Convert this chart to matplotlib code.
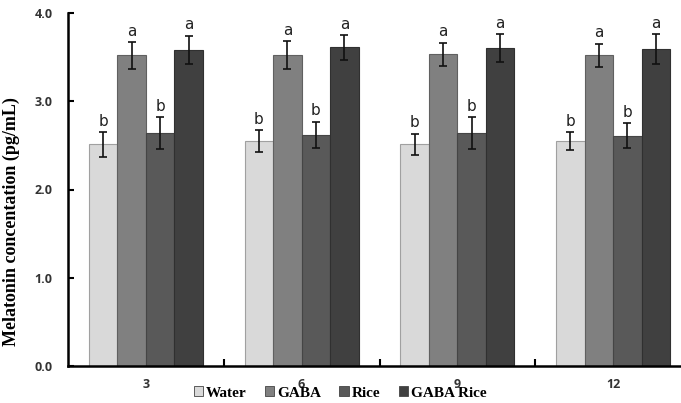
import matplotlib
matplotlib.use("Agg")
import matplotlib.pyplot as plt
import numpy as np

categories = ["3", "6", "9", "12"]
series = ["Water", "GABA", "Rice", "GABA Rice"]
water = [2.51, 2.55, 2.51, 2.55]
gaba = [3.52, 3.52, 3.53, 3.52]
rice = [2.64, 2.62, 2.64, 2.61]
gaba_rice = [3.58, 3.61, 3.60, 3.59]
water_err = [0.14, 0.12, 0.12, 0.10]
gaba_err = [0.15, 0.16, 0.13, 0.13]
rice_err = [0.18, 0.15, 0.18, 0.14]
gaba_rice_err = [0.16, 0.14, 0.16, 0.17]
letters = [["b"] * 4, ["a"] * 4, ["b"] * 4, ["a"] * 4]
yticks = [0.0, 1.0, 2.0, 3.0, 4.0]

values = [water, gaba, rice, gaba_rice]
errors = [water_err, gaba_err, rice_err, gaba_rice_err]
colors = ["#d9d9d9", "#808080", "#595959", "#404040"]
edges = ["#a0a0a0", "#606060", "#454545", "#303030"]

W, H = 681, 403
fig = plt.figure(figsize=(W / 100, H / 100), dpi=100)
ax = fig.add_axes([68 / W, 1 - 366 / H, (691 - 68) / W, (366 - 13) / H])

x = np.arange(len(categories))
bw = 0.183
for i, (vals, errs) in enumerate(zip(values, errors)):
    pos = x + (i - 1.5) * bw
    ax.bar(pos, vals, bw, color=colors[i], edgecolor=edges[i], linewidth=0.8,
           label=series[i], zorder=2)
    ax.errorbar(pos, vals, yerr=errs, fmt="none", ecolor="#111111",
                elinewidth=1.2, capsize=3, capthick=1.2, zorder=3)
    for p, v, e, t in zip(pos, vals, errs, letters[i]):
        ax.text(p, v + e + 0.04, t, ha="center", va="bottom",
                fontsize=11, family="DejaVu Sans", color="#222222")

ax.set_xlim(-0.5, 3.5)
ax.set_ylim(0, 4.0)
ax.set_yticks(yticks)
ax.set_yticklabels([f"{t:.1f}" for t in yticks], fontsize=9, fontweight="bold",
                   family="Open Sans", color="#333333")
ax.set_xticks(x)
ax.set_xticklabels(categories, fontsize=9, fontweight="bold",
                   family="Open Sans", color="#333333")
ax.tick_params(axis="x", length=0, pad=9)
ax.set_xticks(np.arange(0.5, 3.5, 1.0), minor=True)
ax.tick_params(axis="x", which="minor", direction="in", length=5, width=1.5)
ax.tick_params(axis="y", direction="in", length=4, width=1.5, pad=11)
for s in ["top", "right"]:
    ax.spines[s].set_visible(False)
for s in ["left", "bottom"]:
    ax.spines[s].set_linewidth(1.8)

ax.set_ylabel("Melatonin concentation (pg/mL)", family="Liberation Serif",
              fontweight="bold", fontsize=13)
ax.yaxis.set_label_coords((20 - 68) / 623, (366 - 222) / 353)

leg = fig.legend(loc="center", bbox_to_anchor=(340 / W, 1 - 393 / H), ncol=4,
                 frameon=False, handlelength=0.6, handleheight=0.6,
                 handletextpad=0.2, columnspacing=1.2,
                 prop={"family": "Liberation Serif", "weight": "bold", "size": 11})
for h in leg.legend_handles:
    h.set_edgecolor("#444444")
    h.set_linewidth(0.6)

fig.savefig("out.png", dpi=100)
